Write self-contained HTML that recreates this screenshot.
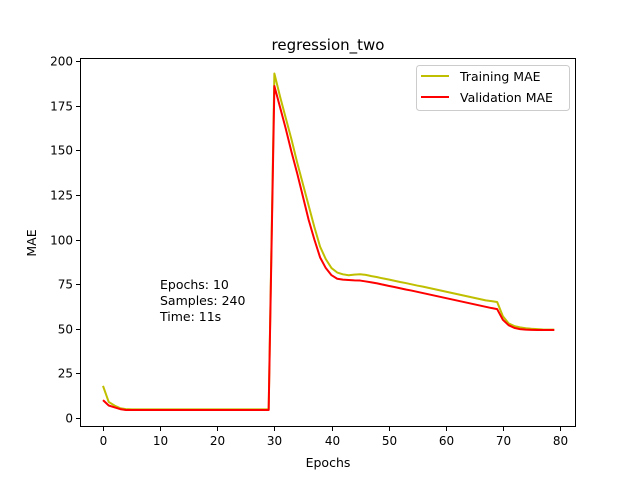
<!DOCTYPE html>
<html><head><meta charset="utf-8"><style>
body{margin:0;background:#fff}
svg text{font-family:"DejaVu Sans","Liberation Sans",sans-serif;fill:#000}
</style></head><body>
<svg id="c" width="640" height="480">
<rect width="640" height="480" fill="#fff"/>
<g id="axes"></g><g id="series"></g>
<text x="328" y="50" font-size="15" text-anchor="middle">regression_two</text>
<text x="328" y="467" font-size="12.5" text-anchor="middle">Epochs</text>
<text x="36" y="243" font-size="12.5" text-anchor="middle" transform="rotate(-90 36 243)">MAE</text>
<g font-size="12.5">
<text x="160" y="289">Epochs: 10</text><text x="160" y="305">Samples: 240</text><text x="160" y="321">Time: 11s</text></g>
<g>
<rect x="416.5" y="65.5" width="153" height="45" rx="3" fill="#fff" stroke="#ccc"/>
<line x1="421" y1="76" x2="449" y2="76" stroke="#bfbf00" stroke-width="2"/>
<text x="460" y="81" font-size="12.5">Training MAE</text>
<line x1="421" y1="97" x2="449" y2="97" stroke="#ff0000" stroke-width="2"/>
<text x="460" y="102" font-size="12.5">Validation MAE</text>
</g>
</svg>
<script>
const xTicks=[0,10,20,30,40,50,60,70,80];
const yTicks=[0,25,50,75,100,125,150,175,200];
const training=[18,9,7,5.5,5,4.8,4.8,4.8,4.8,4.8,4.8,4.8,4.8,4.8,4.8,4.8,4.8,4.8,4.8,4.8,4.8,4.8,4.8,4.8,4.8,4.8,4.8,4.8,4.8,4.8,
193,180,168,156,143,131,119,107,96,89,84,81.5,80.5,80,80.3,80.5,80.2,79.5,78.9,78.2,77.6,76.9,76.2,75.6,74.9,74.2,73.6,72.9,72.2,71.5,70.8,70.1,69.4,68.7,68,67.3,66.6,65.9,65.5,65,57,53,51.5,50.8,50.3,50,49.8,49.6,49.5,49.5];
const validation=[10,7,6,5,4.5,4.5,4.5,4.5,4.5,4.5,4.5,4.5,4.5,4.5,4.5,4.5,4.5,4.5,4.5,4.5,4.5,4.5,4.5,4.5,4.5,4.5,4.5,4.5,4.5,4.5,
186,174,162,149,137,124,111,100,90,84,80,78,77.5,77.3,77.1,77,76.5,76,75.4,74.7,74,73.4,72.7,72,71.4,70.7,70,69.3,68.6,67.9,67.2,66.5,65.8,65.1,64.4,63.7,63,62.3,61.6,61,55,52,50.5,49.8,49.5,49.4,49.3,49.3,49.3,49.3];
const L=80,R=576,T=58,B=427;
const X=v=>103+v*(560-103)/80, Y=v=>418-v*(418-61)/200;
const NS="http://www.w3.org/2000/svg";
const ax=document.getElementById('axes'), se=document.getElementById('series');
function mk(tag,at,p){const e=document.createElementNS(NS,tag);for(const k in at)e.setAttribute(k,at[k]);p.appendChild(e);return e;}
const fr=mk('rect',{x:L+.5,y:T+.5,width:R-L-1,height:B-T-1,fill:'none',stroke:'#000','stroke-width':1},ax);


xTicks.forEach(t=>{const x=Math.round(X(t))+.5;
mk('line',{x1:x,x2:x,y1:B,y2:B+4,stroke:'#000'},ax);
const tx=mk('text',{x:x,y:B+18,'font-size':12,'text-anchor':'middle'},ax);tx.textContent=t;

});
yTicks.forEach(t=>{const y=Math.round(Y(t))+.5;
mk('line',{x1:L-4,x2:L,y1:y,y2:y,stroke:'#000'},ax);
const tx=mk('text',{x:L-7,y:y+4,'font-size':12,'text-anchor':'end'},ax);tx.textContent=t;

});
function line(d,c,n){const p=mk('polyline',{points:d.map((v,i)=>X(i)+','+Y(v)).join(' '),fill:'none',stroke:c,'stroke-width':2,'stroke-linejoin':'round'},se);

}
line(training,'#bfbf00','training-mae-line');
line(validation,'#ff0000','validation-mae-line');
</script>
</body></html>
